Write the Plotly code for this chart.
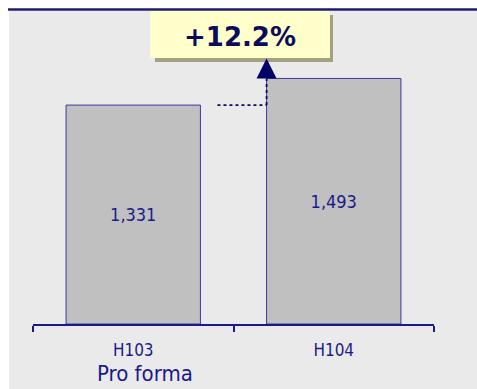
import plotly.graph_objects as go

# ---- data ----
categories = ["H103", "H104"]
values = [1331, 1493]
value_labels = ["1,331", "1,493"]
sub_label = "Pro forma"
growth_label = "+12.2%"

W, H = 477, 389
NAVY = "#1a1a8a"
DARK_NAVY = "#0b0b5e"
FONT = "DejaVu Sans Condensed, DejaVu Sans, sans-serif"

def px_x(p):
    return p / W

def px_y(p):
    return 1 - p / H

fig = go.Figure()
fig.add_trace(go.Bar(
    x=categories, y=values, width=0.67,
    marker=dict(color="#c0c0c0", line=dict(color="#3a3a9a", width=1)),
    text=value_labels, textposition="inside", insidetextanchor="middle",
    textangle=0,
    textfont=dict(family=FONT, size=18, color=NAVY),
    hoverinfo="skip",
))

bar_w = 0.67
left_edge_2 = 1 - bar_w / 2

shapes = [
    # gray background
    dict(type="rect", xref="paper", yref="paper", x0=px_x(9), x1=1, y0=0, y1=px_y(11),
         fillcolor="#eaeaea", line=dict(width=0), layer="below"),
    # top navy rule
    dict(type="line", xref="paper", yref="paper", x0=px_x(8), x1=1, y0=px_y(9.5), y1=px_y(9.5),
         line=dict(color="#1c1c6c", width=2.5)),
    # dotted connector lines
    dict(type="line", xref="x", yref="y", x0=0.42, x1=left_edge_2, y0=values[0], y1=values[0],
         line=dict(color=DARK_NAVY, width=1.8, dash="dot")),
    dict(type="line", xref="x", yref="y", x0=left_edge_2, x1=left_edge_2, y0=values[0], y1=values[1],
         line=dict(color=DARK_NAVY, width=1.8, dash="dot")),
    # box shadow and box
    dict(type="rect", xref="paper", yref="paper", x0=px_x(155), x1=px_x(333), y0=px_y(62), y1=px_y(15),
         fillcolor="#a3a180", line=dict(width=0)),
    dict(type="rect", xref="paper", yref="paper", x0=px_x(150), x1=px_x(330), y0=px_y(58), y1=px_y(11),
         fillcolor="#ffffcc", line=dict(width=0)),
    # arrow head
    dict(type="path", xref="x", yref="y", xsizemode="pixel", ysizemode="pixel",
         xanchor=left_edge_2, yanchor=values[1],
         path="M-10,0 L10,0 L0,20 Z", fillcolor="#000066", line=dict(width=0)),
]

annotations = [
    dict(text=growth_label, xref="paper", yref="paper", x=px_x(240), y=px_y(37),
         xanchor="center", yanchor="middle", showarrow=False,
         font=dict(family="DejaVu Sans", size=26, color=DARK_NAVY, weight="bold")),
    dict(text=sub_label, xref="x", yref="paper", x=categories[0], xshift=12, y=px_y(373),
         xanchor="center", yanchor="middle", showarrow=False,
         font=dict(family=FONT, size=22, color=NAVY)),
]

fig.update_layout(
    width=W, height=H, margin=dict(l=0, r=0, t=0, b=0),
    paper_bgcolor="white", plot_bgcolor="rgba(0,0,0,0)",
    showlegend=False, hovermode=False,
    shapes=shapes, annotations=annotations,
    xaxis=dict(domain=[px_x(33), px_x(434)], type="category", range=[-0.5, 1.5],
               showline=True, linecolor=NAVY, linewidth=1.5,
               ticks="outside", ticklen=6, tickcolor=NAVY, tickwidth=1.5, tickson="boundaries",
               showgrid=False, zeroline=False, ticklabelstandoff=10,
               tickfont=dict(family=FONT, size=17, color=NAVY)),
    yaxis=dict(domain=[(H - 324) / H, (H - 11) / H], range=[0, 1903],
               visible=False, showgrid=False, zeroline=False),
)

fig.write_html("out.html")
